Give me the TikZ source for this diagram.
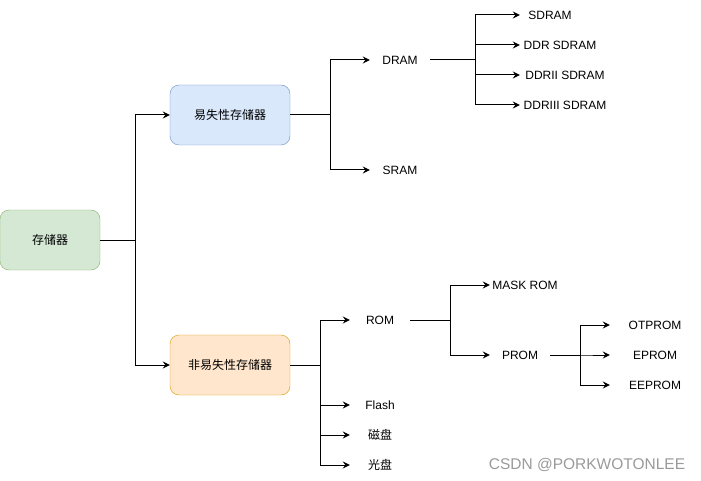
\documentclass[tikz,border=0pt]{standalone}
\usepackage{fontspec}
\setmainfont{Liberation Sans}
\newfontfamily\cjk{Noto Sans CJK SC}
\usetikzlibrary{arrows.meta}
\definecolor{greenfill}{HTML}{D5E8D4}
\definecolor{greenline}{HTML}{82B366}
\definecolor{bluefill}{HTML}{DAE8FC}
\definecolor{blueline}{HTML}{6C8EBF}
\definecolor{orangefill}{HTML}{FFE6CC}
\definecolor{orangeline}{HTML}{D79B00}
\definecolor{markgray}{HTML}{9A9A9A}
\tikzset{>={Stealth[length=7pt,width=7pt,inset=2.5pt]}}
\tikzset{box/.style={draw,rounded corners=9pt,minimum width=120pt,minimum height=60pt,inner sep=0pt,font=\cjk\fontsize{12}{14}\selectfont}}
\tikzset{item/.style={minimum width=60pt,minimum height=30pt,inner sep=0pt,font=\fontsize{12}{14}\selectfont}}
\tikzset{link/.style={line width=1pt}}

\begin{document}
\begin{tikzpicture}[x=1pt,y=-1pt]
  \useasboundingbox (0,0) rectangle (701,481);
  % Boxes
  \node[box,fill=greenfill,draw=greenline,minimum width=100pt] (mem) at (50,240) {存储器};
  \node[box,fill=bluefill,draw=blueline] (vol) at (230,115) {易失性存储器};
  \node[box,fill=orangefill,draw=orangeline] (nvol) at (230,365) {非易失性存储器};

  % Volatile
  \node[item] (dram) at (400,60) {DRAM};
  \node[item] (sram) at (400,170) {SRAM};
  \node[item] (sdram) at (550,15) {SDRAM};
  \node[item,minimum width=80pt] (ddr) at (560,45) {DDR SDRAM};
  \node[item,minimum width=90pt] (ddrii) at (565,75) {DDRII SDRAM};
  \node[item,minimum width=90pt] (ddriii) at (565,105) {DDRIII SDRAM};

  % Non-volatile
  \node[item] (rom) at (380,320) {ROM};
  \node[item] (flash) at (380,405) {Flash};
  \node[item,font=\cjk\fontsize{12}{14}\selectfont] (disk) at (380,435) {磁盘};
  \node[item,font=\cjk\fontsize{12}{14}\selectfont] (cd) at (380,465) {光盘};
  \node[item,minimum width=70pt] (mask) at (525,285) {MASK ROM};
  \node[item] (prom) at (520,355) {PROM};
  \node[item,minimum width=90pt] (otp) at (655,325) {OTPROM};
  \node[item,minimum width=90pt] (eprom) at (655,355) {EPROM};
  \node[item,minimum width=90pt] (eeprom) at (655,385) {EEPROM};

  % Lines
  \draw[link,->] (mem.east) -- ++(35,0) |- (vol.west);
  \draw[link,->] (mem.east) -- ++(35,0) |- (nvol.west);
  \draw[link,->] (vol.east) -- ++(40,0) |- (dram.west);
  \draw[link,->] (vol.east) -- ++(40,0) |- (sram.west);
  \draw[link,->] (dram.east) -- ++(45,0) |- (sdram.west);
  \draw[link,->] (dram.east) -- ++(45,0) |- (ddr.west);
  \draw[link,->] (dram.east) -- ++(45,0) |- (ddrii.west);
  \draw[link,->] (dram.east) -- ++(45,0) |- (ddriii.west);
  \draw[link,->] (nvol.east) -- ++(30,0) |- (rom.west);
  \draw[link,->] (nvol.east) -- ++(30,0) |- (flash.west);
  \draw[link,->] (nvol.east) -- ++(30,0) |- (disk.west);
  \draw[link,->] (nvol.east) -- ++(30,0) |- (cd.west);
  \draw[link,->] (rom.east) -- ++(40,0) |- (mask.west);
  \draw[link,->] (rom.east) -- ++(40,0) |- (prom.west);
  \draw[link,->] (prom.east) -- ++(30,0) |- (otp.west);
  \draw[link,->] (prom.east) -- ++(30,0) |- (eprom.west);
  \draw[link,->] (prom.east) -- ++(30,0) |- (eeprom.west);

  % Watermark
  \node[text=markgray,font=\fontsize{15.5}{18}\selectfont] (mark) at (587,465) {CSDN @PORKWOTONLEE};
\end{tikzpicture}
\end{document}
